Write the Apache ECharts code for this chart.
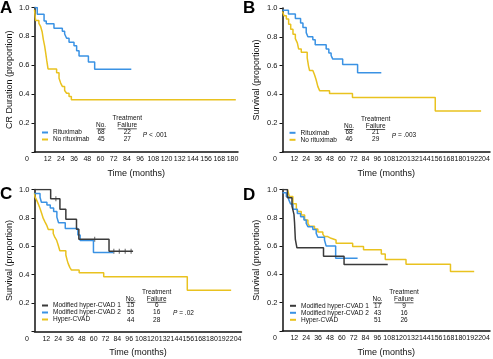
<!DOCTYPE html>
<html><head><meta charset="utf-8">
<script src="https://cdn.jsdelivr.net/npm/echarts@6/dist/echarts.min.js"></script>
<style>html,body{margin:0;padding:0;background:#fff}#c{width:493px;height:359px}</style>
</head><body><div id="c"></div>
<script>
// ---------- DATA ----------
// Panel A: CR duration
const aRitT = [0, 2.5, 8.7, 10.7, 17.7, 25.3, 27.4, 29.2, 31.4, 35.9, 38.3, 40.5, 49, 54.7, 88];
const aRitS = [1.0, 0.953, 0.906, 0.887, 0.857, 0.836, 0.817, 0.787, 0.759, 0.735, 0.70, 0.665, 0.623, 0.573, 0.573];
const aNoT  = [0, 1, 4, 5.5, 7, 8, 9.2, 10.1, 11.2, 12.3, 20.1, 22.3, 23.8, 25.3, 27.4, 29.2, 31.4, 33.5, 183];
const aNoS  = [0.985, 0.91, 0.89, 0.87, 0.83, 0.78, 0.735, 0.69, 0.63, 0.575, 0.548, 0.51, 0.477, 0.454, 0.426, 0.407, 0.384, 0.362, 0.362];
// Panel B: survival by rituximab
const bRitT = [0, 6, 13, 18.3, 20.7, 24, 25.7, 30.7, 33.1, 44.2, 46.9, 49.2, 50.9, 60.9, 76, 100];
const bRitS = [0.985, 0.958, 0.927, 0.895, 0.864, 0.829, 0.80, 0.78, 0.745, 0.716, 0.688, 0.67, 0.645, 0.607, 0.55, 0.55];
const bNoT  = [0, 1.5, 3.9, 6.2, 8.3, 10.6, 13, 15, 16.3, 19, 25, 26.4, 27.4, 30.7, 32.4, 34.1, 35.8, 37.6, 47.6, 70.8, 154.6, 201];
const bNoS  = [0.975, 0.946, 0.923, 0.887, 0.852, 0.817, 0.787, 0.758, 0.716, 0.693, 0.653, 0.595, 0.566, 0.556, 0.536, 0.50, 0.454, 0.426, 0.407, 0.379, 0.284, 0.284];
// Panel C: survival by regimen
const cM1T = [0, 16.4, 25.8, 31.8, 42.6, 45, 75.6, 100];
const cM1S = [1.0, 0.935, 0.86, 0.79, 0.72, 0.65, 0.565, 0.565];
const cM2T = [0, 5.6, 7, 12.6, 16, 19.4, 22.7, 24.4, 31.2, 44, 46.3, 59.8, 80];
const cM2S = [0.972, 0.945, 0.91, 0.89, 0.87, 0.845, 0.805, 0.765, 0.725, 0.68, 0.64, 0.556, 0.556];
const cHyT = [0, 0.5, 2.2, 3.9, 5.6, 7.3, 8.9, 10.6, 12.3, 14, 19, 20.7, 22.4, 24, 25.7, 31.8, 33.1, 34.1, 35.8, 37.5, 45.3, 70.2, 155, 199.5];
const cHyS = [0.975, 0.948, 0.925, 0.897, 0.866, 0.831, 0.796, 0.772, 0.749, 0.718, 0.69, 0.662, 0.643, 0.608, 0.568, 0.538, 0.502, 0.479, 0.451, 0.432, 0.413, 0.385, 0.29, 0.29];
const cCensT = [21.7, 61.1, 80.5, 86, 92, 98];
const cCensS = [0.935, 0.65, 0.565, 0.565, 0.565, 0.565];
// Panel D: survival by regimen
const dM1T = [0, 5, 9.6, 11.6, 12.2, 12.6, 13, 14.6, 41.5, 62.3, 106.5];
const dM1S = [1.0, 0.941, 0.882, 0.824, 0.765, 0.706, 0.647, 0.588, 0.529, 0.47, 0.47];
const dM2T = [0, 3.9, 6.2, 8.2, 10.6, 15, 18.3, 21.7, 24, 25.7, 30.7, 34.1, 35.8, 42.5, 44.2, 53.8, 76];
const dM2S = [0.977, 0.948, 0.93, 0.897, 0.86, 0.83, 0.807, 0.784, 0.76, 0.737, 0.718, 0.69, 0.662, 0.643, 0.60, 0.514, 0.514];
const dHyT = [5, 7, 10.5, 14, 15.6, 19, 22.4, 25.7, 27.4, 32.4, 35.8, 40.8, 42.5, 45.8, 49.2, 54.2, 71, 82, 100, 104, 125, 170, 194];
const dHyS = [1.0, 0.95, 0.90, 0.865, 0.845, 0.82, 0.785, 0.76, 0.74, 0.72, 0.70, 0.685, 0.667, 0.655, 0.643, 0.62, 0.597, 0.575, 0.545, 0.505, 0.472, 0.42, 0.42];

// Legend tables
const abNames = ['Rituximab', 'No rituximab'];
const aNo = [68, 45], aFail = [22, 27], aP = '{i|P} < .001';
const bNo = [68, 46], bFail = [21, 29], bP = '{i|P} = .003';
const cdNames = ['Modified hyper-CVAD 1', 'Modified hyper-CVAD 2', 'Hyper-CVAD'];
const cNo = [15, 55, 44], cFail = [6, 16, 28], cP = '{i|P} = .02';
const dNo = [17, 43, 51], dFail = [9, 16, 26];
const panelLetters = ['A', 'B', 'C', 'D'];
const yTitles = ['CR Duration (proportion)', 'Survival (proportion)', 'Survival (proportion)', 'Survival (proportion)'];
const xTitle = 'Time (months)';

// ---------- STYLE ----------
const FONT = "'Liberation Sans',Arial,sans-serif";
const BLUE = '#3a92e4', YEL = '#e9c21f', BLK = '#3a3a3a';
const zip = (t, s) => t.map((x, i) => [x, s[i]]);

const grids = [
  {left: 34.5, top: 7.5, width: 203.5, height: 144.5},
  {left: 282.5, top: 8, width: 208.5, height: 144},
  {left: 34.5, top: 189.5, width: 207, height: 141.8},
  {left: 282.5, top: 189.5, width: 208.5, height: 141.5}
];
const xMax = [185, 210, 210, 210];
const yGap = [20, 21.5, 20, 21.5];

const xAxes = grids.map((g, i) => ({
  gridIndex: i, type: 'value', min: 0, max: xMax[i], interval: 12,
  name: xTitle, nameLocation: 'middle', nameGap: 17,
  nameTextStyle: {fontFamily: FONT, fontSize: 9, color: '#111'},
  axisLine: {lineStyle: {color: '#111', width: 1.5}},
  axisTick: {show: false}, splitLine: {show: false},
  axisLabel: {
    fontFamily: FONT, fontSize: 7, color: '#111', margin: 4,
    formatter: v => v === 0 ? '{z|0}' : (v % 12 === 0 ? String(v) : ''),
    rich: {z: {fontFamily: FONT, fontSize: 7, color: '#111', padding: [0, 15, 0, 0]}}
  }
}));
const yAxes = grids.map((g, i) => ({
  gridIndex: i, type: 'value', min: 0, max: 1, interval: 0.2,
  name: yTitles[i], nameLocation: 'middle', nameGap: yGap[i],
  nameTextStyle: {fontFamily: FONT, fontSize: 9, color: '#111'},
  axisLine: {show: true, lineStyle: {color: '#111', width: 1.5}},
  axisTick: {show: true, length: 3, lineStyle: {color: '#111'}},
  splitLine: {show: false},
  axisLabel: {
    fontFamily: FONT, fontSize: 7.5, color: '#111', margin: 5,
    formatter: v => v === 0 ? '' : v.toFixed(1)
  }
}));

function line(name, idx, t, s, color) {
  return {
    name, type: 'line', xAxisIndex: idx, yAxisIndex: idx, step: 'end',
    data: zip(t, s), showSymbol: false, symbol: 'none',
    lineStyle: {color, width: 1.5}, itemStyle: {color}, animation: false
  };
}
const series = [
  line('No rituximab', 0, aNoT, aNoS, YEL),
  line('Rituximab', 0, aRitT, aRitS, BLUE),
  line('No rituximab', 1, bNoT, bNoS, YEL),
  line('Rituximab', 1, bRitT, bRitS, BLUE),
  line('Hyper-CVAD', 2, cHyT, cHyS, YEL),
  line('Modified hyper-CVAD 2', 2, cM2T, cM2S, BLUE),
  line('Modified hyper-CVAD 1', 2, cM1T, cM1S, BLK),
  line('Hyper-CVAD', 3, dHyT, dHyS, YEL),
  line('Modified hyper-CVAD 2', 3, dM2T, dM2S, BLUE),
  line('Modified hyper-CVAD 1', 3, dM1T, dM1S, BLK),
  {type: 'scatter', xAxisIndex: 2, yAxisIndex: 2, data: zip(cCensT, cCensS),
   symbol: 'rect', symbolSize: [1, 5], itemStyle: {color: BLK}, animation: false, silent: true}
];

function legend(names, left, top) {
  return {
    data: names, left, top, orient: 'vertical', itemGap: 0, padding: 0,
    itemWidth: 6, itemHeight: 2, icon: 'rect', selectedMode: false,
    textStyle: {fontFamily: FONT, fontSize: 6.5, color: '#111', lineHeight: 7}
  };
}
const legends = [
  legend(abNames, 42, 129),
  legend(abNames, 289.5, 129.3),
  legend(cdNames, 42, 302),
  legend(cdNames, 290, 302.3)
];

// table graphics
const G = [];
function t(x, y, s, extra) {
  G.push({type: 'text', x, y, silent: true, style: Object.assign({
    text: s, fontFamily: FONT, fontSize: 6.5, fill: '#111', align: 'center', verticalAlign: 'middle',
    rich: {i: {fontFamily: FONT, fontSize: 6.5, fontStyle: 'italic', fill: '#111'}}
  }, extra || {})});
}
function ul(x, y, w) {
  G.push({type: 'line', silent: true, shape: {x1: x - w / 2, y1: y, x2: x + w / 2, y2: y}, style: {stroke: '#111', lineWidth: 0.7}});
}
function table(noX, failX, headY, rowY, nos, fails, pText, pX, pY) {
  t(failX, headY, 'Treatment');
  t(noX, headY + 7, 'No.'); ul(noX, headY + 10.5, 9);
  t(failX, headY + 7, 'Failure'); ul(failX, headY + 10.5, 19);
  nos.forEach((n, i) => { t(noX, rowY[i], String(n)); t(failX, rowY[i], String(fails[i])); });
  if (pText) t(pX, pY, pText);
}
table(101, 127.3, 118.3, [132.3, 139.3], aNo, aFail, aP, 155, 135);
table(349, 375.7, 119, [132.7, 139.2], bNo, bFail, bP, 404, 135.7);
table(130.7, 156.7, 291.8, [305.5, 312.7, 319.8], cNo, cFail, cP, 183.5, 313.2);
table(377.5, 404, 292.3, [306, 313, 320], dNo, dFail, null);
const letterPos = [[0, 0], [243, 0], [0, 185.5], [243, 186.5]];
panelLetters.forEach((L, i) => G.push({type: 'text', x: letterPos[i][0], y: letterPos[i][1], silent: true,
  style: {text: L, fontFamily: FONT, fontWeight: 'bold', fontSize: 17, fill: '#000', align: 'left', verticalAlign: 'top'}}));

const chart = echarts.init(document.getElementById('c'), null, {renderer: 'canvas'});
chart.setOption({
  animation: false, backgroundColor: '#fff',
  grid: grids, xAxis: xAxes, yAxis: yAxes, series, legend: legends, graphic: G
});
</script></body></html>
